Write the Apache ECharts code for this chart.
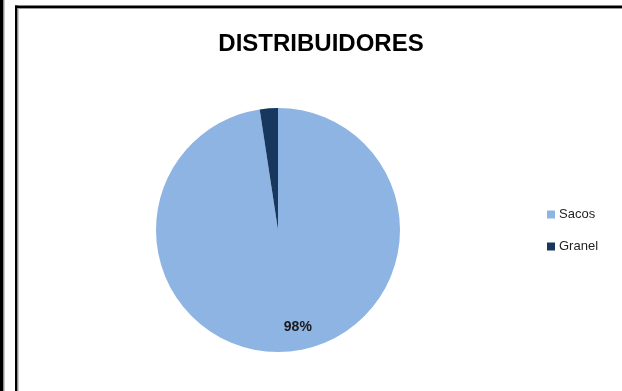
<!DOCTYPE html>
<html>
<head>
<meta charset="utf-8">
<script src="https://cdn.jsdelivr.net/npm/echarts@6/dist/echarts.min.js"></script>
<style>
  html, body { margin: 0; padding: 0; background: #fff; }
  #chart { width: 622px; height: 391px; }
</style>
</head>
<body>
<div id="chart"></div>
<script>
// Distribution by packaging type
const titleText = 'DISTRIBUIDORES';
const categories = ['Sacos', 'Granel'];
const values = [97.6, 2.4];
const colors = ['#8EB4E3', '#17375E'];

const chart = echarts.init(document.getElementById('chart'), null, { renderer: 'canvas' });

const data = categories.map((name, i) => ({
  name: name,
  value: values[i],
  itemStyle: { color: colors[i] },
  label: { show: i === 0 }
}));

chart.setOption({
  animation: false,
  backgroundColor: '#ffffff',
  title: {
    text: titleText,
    left: 316,
    textAlign: 'center',
    top: 27,
    textStyle: {
      fontFamily: 'Liberation Sans, Arial, sans-serif',
      fontWeight: 'bold',
      fontSize: 24,
      color: '#000000'
    }
  },
  legend: {
    orient: 'vertical',
    left: 547,
    top: 208,
    padding: 0,
    itemWidth: 8,
    itemHeight: 8,
    itemGap: 19,
    icon: 'rect',
    data: categories,
    textStyle: {
      fontFamily: 'Liberation Sans, Arial, sans-serif',
      fontSize: 13,
      color: '#1f1f1f',
      padding: [0, 0, 0, -1]
    }
  },
  graphic: [
    // outer left bar
    { type: 'rect', silent: true, shape: { x: 0, y: 0, width: 3.5, height: 391 }, style: { fill: '#000' } },
    { type: 'rect', silent: true, shape: { x: 3.5, y: 0, width: 1, height: 391 }, style: { fill: '#9a9a9a' } },
    // chart frame: left and top edges
    { type: 'rect', silent: true, shape: { x: 15, y: 5.5, width: 2.5, height: 386 }, style: { fill: '#000' } },
    { type: 'rect', silent: true, shape: { x: 17.5, y: 8, width: 1, height: 383 }, style: { fill: '#9a9a9a' } },
    { type: 'rect', silent: true, shape: { x: 15, y: 5.5, width: 607, height: 2.5 }, style: { fill: '#000' } },
    { type: 'rect', silent: true, shape: { x: 17.5, y: 8, width: 605, height: 1 }, style: { fill: '#9a9a9a' } }
  ],
  series: [{
    type: 'pie',
    center: [278, 230],
    radius: 122,
    startAngle: 90,
    clockwise: true,
    avoidLabelOverlap: false,
    label: {
      position: 'inside',
      formatter: p => Math.round(p.percent) + '%',
      fontFamily: 'Liberation Sans, Arial, sans-serif',
      fontWeight: 'bold',
      fontSize: 14,
      color: '#1a1a1a'
    },
    labelLine: { show: false },
    labelLayout: { dx: 15, dy: 33 },
    emphasis: { disabled: true },
    itemStyle: { borderWidth: 0 },
    data: data
  }]
});
</script>
</body>
</html>
